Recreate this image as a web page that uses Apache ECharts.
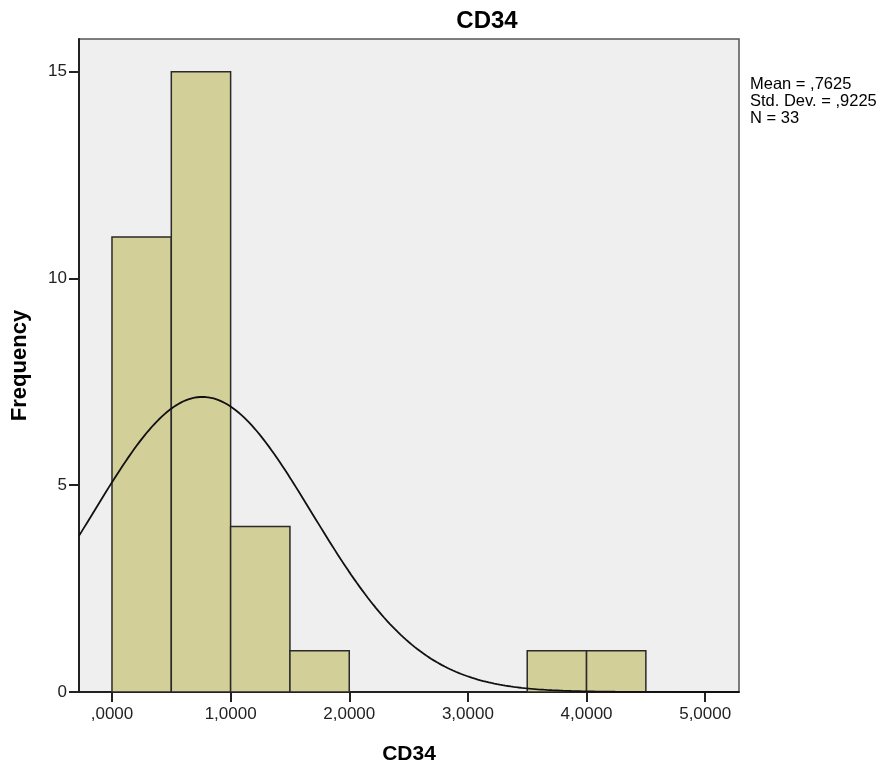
<!DOCTYPE html>
<html>
<head>
<meta charset="utf-8">
<script src="https://cdn.jsdelivr.net/npm/echarts@6/dist/echarts.min.js"></script>
<style>
  html, body { margin: 0; padding: 0; background: #ffffff; }
  #chart { width: 887px; height: 768px; }
</style>
</head>
<body>
<div id="chart"></div>
<script>
// Histogram bins for CD34 (bin edges and counts)
const binStarts = [0.0, 0.5, 1.0, 1.5, 3.5, 4.0];
const binWidth = 0.5;
const binCounts = [11, 15, 4, 1, 1, 1];

// Summary statistics shown in the side legend
const meanValue = 0.7625;
const sdValue = 0.9225;
const nValue = 33;

// Axis ticks
const xTicks = [0, 1, 2, 3, 4, 5];
const yTicks = [0, 5, 10, 15];

const xMin = -0.278, xMax = 5.285;
const yMax = 15.79;

// Fitted normal curve, scaled to counts per bin
const curveData = [];
const steps = 240;
for (let i = 0; i <= steps; i++) {
  const x = xMin + (xMax - xMin) * i / steps;
  const z = (x - meanValue) / sdValue;
  const y = nValue * binWidth * Math.exp(-0.5 * z * z) / (sdValue * Math.sqrt(2 * Math.PI));
  curveData.push([x, y]);
}

const barData = binStarts.map((s, i) => [s, s + binWidth, binCounts[i]]);

function fmtX(v) {
  let s = v.toFixed(4).replace('.', ',');
  if (s.startsWith('0,')) s = s.slice(1);
  return s;
}

const chart = echarts.init(document.getElementById('chart'), null, { renderer: 'canvas' });
const font = 'Liberation Sans, Arial, sans-serif';

chart.setOption({
  animation: false,
  backgroundColor: '#ffffff',
  title: {
    text: 'CD34',
    left: 482,
    top: 4,
    textAlign: 'center',
    textStyle: { fontFamily: font, fontWeight: 'bold', fontSize: 24, color: '#000' }
  },
  graphic: [{
    type: 'text',
    left: 750,
    top: 76,
    style: {
      text: 'Mean = ,' + meanValue.toFixed(4).split('.')[1] +
            '\nStd. Dev. = ,' + sdValue.toFixed(4).split('.')[1] +
            '\nN = ' + nValue,
      fontFamily: font,
      fontSize: 16.5,
      lineHeight: 17,
      fill: '#000'
    }
  }],
  grid: {
    left: 79, right: 148, top: 39, bottom: 76,
    outerBoundsMode: 'none',
    show: true,
    backgroundColor: '#efefef',
    borderColor: '#555',
    borderWidth: 1.5
  },
  xAxis: {
    type: 'value',
    min: xMin, max: xMax,
    name: 'CD34',
    nameLocation: 'middle',
    nameGap: 52,
    nameTextStyle: { fontFamily: font, fontWeight: 'bold', fontSize: 21, color: '#000' },
    axisLine: { show: true, onZero: false, lineStyle: { color: '#222', width: 2 } },
    axisTick: { show: true, length: 10, customValues: xTicks, lineStyle: { color: '#222', width: 2 } },
    axisLabel: { customValues: xTicks, formatter: fmtX, fontFamily: font, fontSize: 17, color: '#222', margin: 14 },
    splitLine: { show: false }
  },
  yAxis: {
    type: 'value',
    min: 0, max: yMax,
    name: 'Frequency',
    nameLocation: 'middle',
    nameGap: 48,
    nameTextStyle: { fontFamily: font, fontWeight: 'bold', fontSize: 22, color: '#000' },
    axisLine: { show: true, onZero: false, lineStyle: { color: '#222', width: 2 } },
    axisTick: { show: true, length: 10, customValues: yTicks, lineStyle: { color: '#222', width: 2 } },
    axisLabel: { customValues: yTicks, fontFamily: font, fontSize: 17, color: '#222', margin: 12 },
    splitLine: { show: false }
  },
  series: [
    {
      type: 'custom',
      data: barData,
      clip: true,
      renderItem: function (params, api) {
        const p0 = api.coord([api.value(0), api.value(2)]);
        const p1 = api.coord([api.value(1), 0]);
        return {
          type: 'rect',
          shape: { x: p0[0], y: p0[1], width: p1[0] - p0[0], height: p1[1] - p0[1] },
          style: { fill: '#d3cf98', stroke: '#2a2a2a', lineWidth: 1.5 }
        };
      },
      z: 2
    },
    {
      type: 'line',
      data: curveData,
      showSymbol: false,
      symbol: 'none',
      smooth: false,
      clip: true,
      lineStyle: { color: '#111', width: 1.8 },
      z: 3
    }
  ]
});
</script>
</body>
</html>
